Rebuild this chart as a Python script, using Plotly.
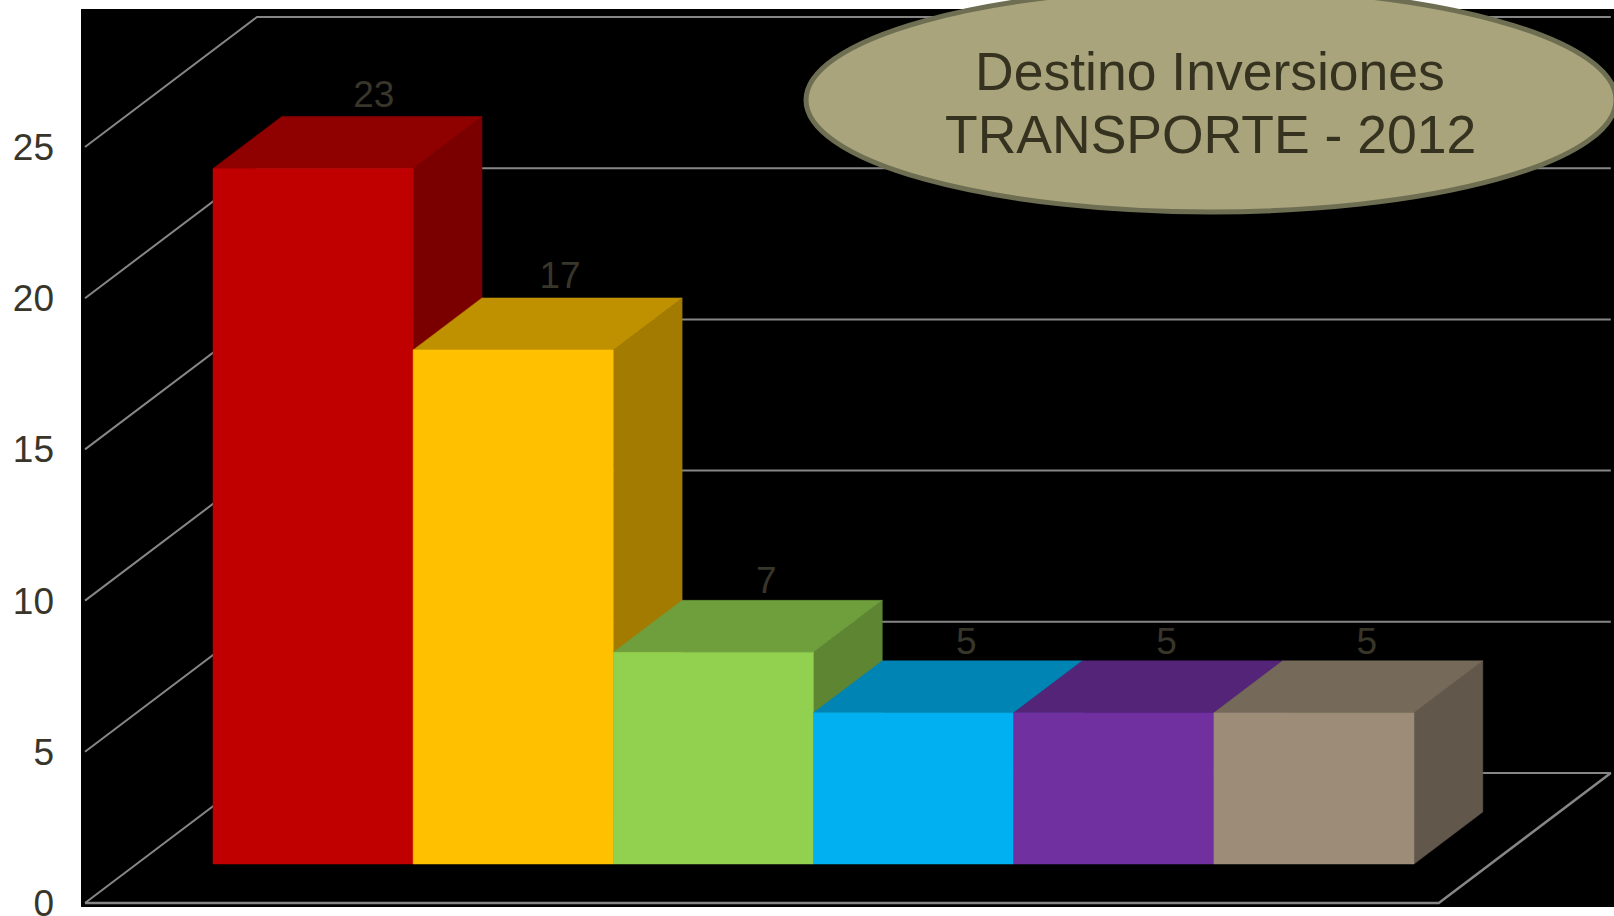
import plotly.graph_objects as go

# ---- data ----
values = [23, 17, 7, 5, 5, 5]
value_labels = ["23", "17", "7", "5", "5", "5"]
y_ticks = [0, 5, 10, 15, 20, 25]
front_colors = ["#C00000", "#FFC000", "#92D050", "#00B0F0", "#7030A0", "#9C8C78"]
top_colors = ["#8F0000", "#BF9000", "#6F9E3D", "#0084B4", "#542478", "#756A5A"]
side_colors = ["#7A0000", "#A37B00", "#5D8532", "#007099", "#451D66", "#61574B"]
title_lines = ["Destino Inversiones", "TRANSPORTE - 2012"]

# ---- layout constants (pixels of the page) ----
W, H = 1614, 916
PL, PR, PT, PB = 81, 1614, 9, 907      # black plot area
X_UNIT = 200.17                        # px per bar
Y_UNIT = 30.24                         # px per value unit
ORIGIN_X, ORIGIN_Y = 161.4, 903        # px of (x=0, y=0) at depth 0
DX = 172 / X_UNIT                      # full chart depth on the x axis
DY = 130 / Y_UNIT                      # full chart depth on the y axis
FLOOR_PAD = 0.3817
BAR_D0, BAR_D1 = 0.3, 0.7              # bar extent in chart depth
TEXT_COLOR = "#38362A"
GRID = "#868686"
LABEL_NUDGE_X = [-8, -22, -16, -16, -16, -16]   # px, label centre vs top-face centre
LABEL_NUDGE_Y = [19, 19, 17, 16, 16, 16]        # px above the back top edge
TITLE_Y = [72, 135]                             # px centre of each title line

n = len(values)
x_min = (PL - ORIGIN_X) / X_UNIT
x_max = (PR - ORIGIN_X) / X_UNIT
y_min = (ORIGIN_Y - PB) / Y_UNIT
y_max = (ORIGIN_Y - PT) / Y_UNIT


def proj(x, v, d):
    return x + d * DX, v + d * DY


def line(points, width=2):
    xs, ys = zip(*points)
    return go.Scatter(x=xs, y=ys, mode="lines", line=dict(color=GRID, width=width),
                      hoverinfo="skip", showlegend=False, cliponaxis=False)


def face(points, color):
    xs, ys = zip(*(points + points[:1]))
    return go.Scatter(x=xs, y=ys, mode="lines", fill="toself", fillcolor=color,
                      line=dict(color=color, width=0.5), hoverinfo="skip", showlegend=False)


fig = go.Figure()
xl, xr = -FLOOR_PAD, n + FLOOR_PAD

# wall and back gridlines
for t in y_ticks:
    fig.add_trace(line([proj(xl, t, 0), proj(xl, t, 1), proj(xr, t, 1)]))
# floor
fig.add_trace(line([proj(xl, 0, 0), proj(xr, 0, 0), proj(xr, 0, 1)], width=2.5))

# bars
for i, v in enumerate(values):
    a, b = i, i + 1
    fig.add_trace(face([proj(b, 0, BAR_D0), proj(b, v, BAR_D0), proj(b, v, BAR_D1), proj(b, 0, BAR_D1)], side_colors[i]))
    fig.add_trace(face([proj(a, v, BAR_D0), proj(b, v, BAR_D0), proj(b, v, BAR_D1), proj(a, v, BAR_D1)], top_colors[i]))
    fig.add_trace(face([proj(a, 0, BAR_D0), proj(b, 0, BAR_D0), proj(b, v, BAR_D0), proj(a, v, BAR_D0)], front_colors[i]))

# value labels
lab = [proj(i + 0.5, v, BAR_D1) for i, v in enumerate(values)]
fig.add_trace(go.Scatter(
    x=[p[0] + LABEL_NUDGE_X[i] / X_UNIT for i, p in enumerate(lab)],
    y=[p[1] + LABEL_NUDGE_Y[i] / Y_UNIT for i, p in enumerate(lab)],
    mode="text", text=value_labels, textposition="middle center",
    textfont=dict(family="Liberation Sans", size=37, color=TEXT_COLOR),
    hoverinfo="skip", showlegend=False, cliponaxis=False))

# title ellipse
PW, PH = PR - PL, PB - PT
px2x = lambda p: (p - PL) / PW
px2y = lambda p: 1 - (p - PT) / PH
fig.add_shape(type="circle", xref="paper", yref="paper", layer="above",
              x0=px2x(806), x1=px2x(1616), y0=px2y(-12), y1=px2y(212),
              fillcolor="#A9A47C", line=dict(color="#6E6E52", width=5))
for txt, ty in zip(title_lines, TITLE_Y):
    fig.add_annotation(xref="paper", yref="paper", x=px2x(1210), y=px2y(ty),
                       text=txt, showarrow=False, align="center",
                       xanchor="center", yanchor="middle",
                       font=dict(family="Liberation Sans", size=53.5, color="#35321F"))

fig.update_layout(
    width=W, height=H, autosize=False,
    margin=dict(l=PL, r=W - PR, t=PT, b=H - PB, pad=0, autoexpand=False),
    paper_bgcolor="white", plot_bgcolor="black", showlegend=False,
    xaxis=dict(range=[x_min, x_max], visible=False, fixedrange=True),
    yaxis=dict(range=[y_min, y_max], showgrid=False, zeroline=False, showline=False,
               tickmode="array", tickvals=y_ticks, ticktext=[str(t) for t in y_ticks],
               tickfont=dict(family="Liberation Sans", size=37, color=TEXT_COLOR),
               ticks="", ticklabelstandoff=26, ticklabeloverflow="allow", fixedrange=True),
)

fig.write_html("out.html", config={"displayModeBar": False},
               post_script="document.body.style.margin='0';document.body.style.overflow='hidden';")
